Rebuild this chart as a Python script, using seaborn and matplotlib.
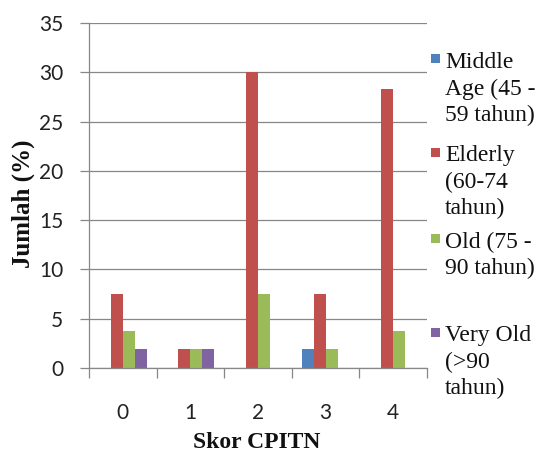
import matplotlib
matplotlib.use("Agg")
import matplotlib.pyplot as plt
from matplotlib.patches import Rectangle
import seaborn as sns
import pandas as pd

# CPITN score categories and share of respondents (%) per age group
scores = ["0", "1", "2", "3", "4"]
middle_age = [0.0, 0.0, 0.0, 1.9, 0.0]
elderly = [7.5, 1.9, 30.0, 7.5, 28.3]
old = [3.8, 1.9, 7.5, 1.9, 3.8]
very_old = [1.9, 1.9, 0.0, 0.0, 0.0]

groups = ["Middle Age", "Elderly", "Old", "Very Old"]
legend_labels = [
    "Middle\nAge (45 -\n59 tahun)",
    "Elderly\n(60-74\ntahun)",
    "Old (75 -\n90 tahun)",
    "Very Old\n(>90\ntahun)",
]
colors = ["#4F81BD", "#C0504D", "#9BBB59", "#8064A2"]
y_ticks = [0, 5, 10, 15, 20, 25, 30, 35]

df = pd.DataFrame({
    "score": scores * 4,
    "group": [g for g in groups for _ in scores],
    "value": middle_age + elderly + old + very_old,
})

sns.set_style("white")
plt.rcParams["font.family"] = ["Lato", "DejaVu Sans"]

W, H = 543, 453
fig = plt.figure(figsize=(W / 100, H / 100), dpi=100)
ax = fig.add_axes([89 / W, 1 - 368 / H, (427 - 89) / W, (368 - 23) / H])

sns.barplot(data=df, x="score", y="value", hue="group", order=scores,
            hue_order=groups, palette=colors, width=0.71, linewidth=0,
            saturation=1, legend=False, ax=ax)

grid_c = "#878787"
ax.set_xlim(-0.5, 4.5)
ax.set_ylim(0, 35)
ax.set_yticks(y_ticks)
ax.set_yticklabels([str(t) for t in y_ticks])
ax.yaxis.grid(True, color=grid_c, linewidth=0.9)
ax.xaxis.grid(False)
ax.set_axisbelow(True)

# category boundaries carry the tick marks, centres carry the labels
ax.set_xticks([i - 0.5 for i in range(len(scores) + 1)])
ax.set_xticklabels([])
ax.set_xticks(range(len(scores)), scores, minor=True)
ax.tick_params(axis="x", which="major", length=7, width=0.9, color=grid_c,
               direction="out", bottom=True)
ax.tick_params(axis="x", which="minor", length=0, pad=25, labelsize=15,
               labelcolor="#222222")
ax.tick_params(axis="y", length=6.5, width=0.9, color=grid_c, pad=12,
               labelsize=15, labelcolor="#222222", left=True)

for side in ["top", "right"]:
    ax.spines[side].set_visible(False)
for side in ["left", "bottom"]:
    ax.spines[side].set_color(grid_c)
    ax.spines[side].set_linewidth(0.9)

ax.set_xlabel("")
ax.set_ylabel("")
fig.text(257 / W, 1 - 448 / H, "Skor CPITN", ha="center", va="baseline",
         fontsize=17, fontweight="bold", family="Liberation Serif",
         color="#111111")
fig.text(23 / W, 1 - 204 / H, "Jumlah (%)", ha="center", va="center",
         rotation=90, fontsize=18, fontweight="bold",
         family="Liberation Serif", color="#111111")

# legend: colour square followed by wrapped text lines
entry_baselines = [68, 161.5, 248, 341.5]
line_step = 26.5
for label, color, base in zip(legend_labels, colors, entry_baselines):
    fig.patches.append(Rectangle((431 / W, 1 - (base - 5) / H),
                                 9 / W, 9 / H, transform=fig.transFigure,
                                 facecolor=color, edgecolor="none"))
    for k, line in enumerate(label.split("\n")):
        fig.text(445 / W, 1 - (base + k * line_step) / H, line,
                 ha="left", va="baseline", fontsize=17,
                 family="Liberation Serif", color="#111111")

fig.savefig("out.png", dpi=100)
